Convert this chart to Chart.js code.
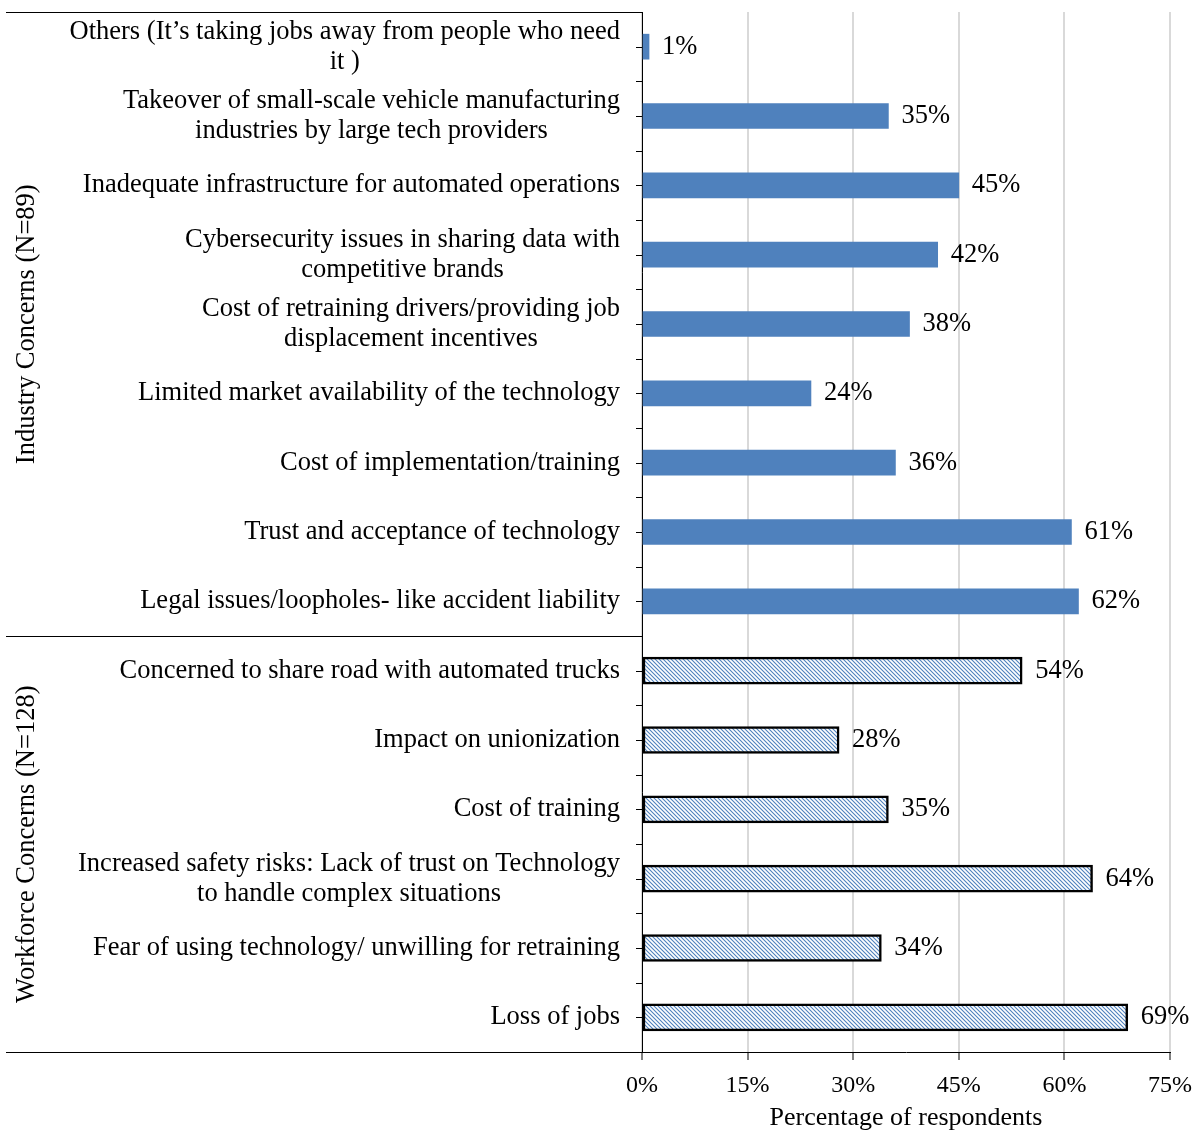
<!DOCTYPE html>
<html>
<head>
<meta charset="utf-8">
<script src="https://cdn.jsdelivr.net/npm/chart.js@4.4.0/dist/chart.umd.min.js"></script>
<style>
html, body { margin: 0; padding: 0; background: #fff; }
</style>
</head>
<body>
<canvas id="chart" width="1203" height="1134"></canvas>
<script>
// data
const industryLabels = [
    ['Others (It\u2019s taking jobs away from people who need', 'it )'],
    ['Takeover of small-scale vehicle manufacturing', 'industries by large tech providers'],
    'Inadequate infrastructure for automated operations',
    ['Cybersecurity issues in sharing data with', 'competitive brands'],
    ['Cost of retraining drivers/providing job', 'displacement incentives'],
    'Limited market availability of the technology',
    'Cost of implementation/training',
    'Trust and acceptance of technology',
    'Legal issues/loopholes- like accident liability'
];
const industryValues = [1, 35, 45, 42, 38, 24, 36, 61, 62];

const workforceLabels = [
    'Concerned to share road with automated trucks',
    'Impact on unionization',
    'Cost of training',
    ['Increased safety risks: Lack of trust on Technology', 'to handle complex situations'],
    'Fear of using technology/ unwilling for retraining',
    'Loss of jobs'
];
const workforceValues = [54, 28, 35, 64, 34, 69];

const groupNames = ['Industry Concerns (N=89)', 'Workforce Concerns (N=128)'];
const xMax = 75;
const xStep = 15;

const FONT = '"Liberation Serif", "Times New Roman", serif';
const BLUE = '#4f81bd';

const labels = industryLabels.concat(workforceLabels);
const nInd = industryLabels.length;
const padNull = n => new Array(n).fill(null);

function hatch() {
    const c = document.createElement('canvas');
    c.width = 4; c.height = 4;
    const g = c.getContext('2d');
    g.fillStyle = '#fff';
    g.fillRect(0, 0, 4, 4);
    g.strokeStyle = BLUE;
    g.lineWidth = 1.1;
    g.beginPath();
    g.moveTo(-1, -1); g.lineTo(5, 5);
    g.moveTo(-1, 3); g.lineTo(1, 5);
    g.moveTo(3, -1); g.lineTo(5, 1);
    g.stroke();
    return g.createPattern(c, 'repeat');
}

const decor = {
    id: 'decor',
    afterDatasetsDraw(chart) {
        const ctx = chart.ctx;
        const y = chart.scales.y;
        const area = chart.chartArea;
        const step = y.getPixelForValue(1) - y.getPixelForValue(0);
        ctx.save();

        // value labels
        ctx.font = '26.5px ' + FONT;
        ctx.fillStyle = '#000';
        ctx.textBaseline = 'middle';
        ctx.textAlign = 'left';
        chart.data.datasets.forEach((ds, di) => {
            chart.getDatasetMeta(di).data.forEach((bar, i) => {
                if (ds.data[i] == null) return;
                ctx.fillText(ds.data[i] + '%', bar.x + 13, bar.y);
            });
        });

        // category labels, lines centred within each block
        labels.forEach((lab, i) => {
            const lines = Array.isArray(lab) ? lab : [lab];
            const w = Math.max(...lines.map(l => ctx.measureText(l).width));
            const cx = area.left - 22 - w / 2;
            const cy = y.getPixelForValue(i);
            ctx.textAlign = 'center';
            lines.forEach((l, k) => {
                ctx.fillText(l, cx, cy + (k - (lines.length - 1) / 2) * 30);
            });
        });

        // ticks on the category axis, every half category
        ctx.strokeStyle = '#000';
        ctx.lineWidth = 1;
        ctx.beginPath();
        for (let k = 0; k <= labels.length * 2; k++) {
            const py = Math.round(area.top + k * step / 2) + 0.5;
            ctx.moveTo(area.left - 6, py);
            ctx.lineTo(area.left, py);
        }
        // frame lines on the left
        const sep = Math.round(area.top + nInd * step) + 0.5;
        ctx.moveTo(6, Math.round(area.top) + 0.5); ctx.lineTo(area.left, Math.round(area.top) + 0.5);
        ctx.moveTo(6, sep); ctx.lineTo(area.left, sep);
        ctx.moveTo(6, Math.round(area.bottom) + 0.5); ctx.lineTo(area.left, Math.round(area.bottom) + 0.5);
        ctx.stroke();

        // group names
        ctx.textAlign = 'center';
        const groups = [[area.top, sep], [sep, area.bottom]];
        groups.forEach((g, i) => {
            ctx.save();
            ctx.translate(27, (g[0] + g[1]) / 2);
            ctx.rotate(-Math.PI / 2);
            ctx.fillText(groupNames[i], 0, 0);
            ctx.restore();
        });
        ctx.restore();
    }
};

new Chart(document.getElementById('chart').getContext('2d'), {
    type: 'bar',
    data: {
        labels: labels,
        datasets: [{
            label: 'Industry',
            data: industryValues.concat(padNull(workforceLabels.length)),
            backgroundColor: BLUE,
            borderWidth: 0,
            barThickness: 25
        }, {
            label: 'Workforce',
            data: padNull(nInd).concat(workforceValues),
            backgroundColor: hatch(),
            borderColor: '#000',
            borderWidth: 2.5,
            borderSkipped: false,
            barThickness: 27
        }]
    },
    options: {
        indexAxis: 'y',
        responsive: false,
        animation: false,
        layout: { padding: { top: 12, right: 32, left: 0, bottom: 0 } },
        plugins: {
            legend: { display: false },
            tooltip: { enabled: false }
        },
        scales: {
            x: {
                stacked: true,
                min: 0,
                max: xMax,
                afterFit(s) { s.height = 82; },
                ticks: {
                    stepSize: xStep,
                    callback: v => v + '%',
                    color: '#000',
                    font: { family: FONT, size: 24 },
                    padding: 11
                },
                grid: {
                    color: '#d9d9d9',
                    lineWidth: 2,
                    tickColor: '#000',
                    tickWidth: 1,
                    tickLength: 8
                },
                border: { display: true, color: '#000', width: 1 },
                title: {
                    display: true,
                    text: 'Percentage of respondents',
                    color: '#000',
                    font: { family: FONT, size: 26 },
                    padding: { top: 1, bottom: 0 }
                }
            },
            y: {
                stacked: true,
                afterFit(s) { s.width = 642; },
                ticks: { display: false },
                grid: { display: false },
                border: { display: true, color: '#000', width: 1 }
            }
        }
    },
    plugins: [decor]
});
</script>
</body>
</html>
